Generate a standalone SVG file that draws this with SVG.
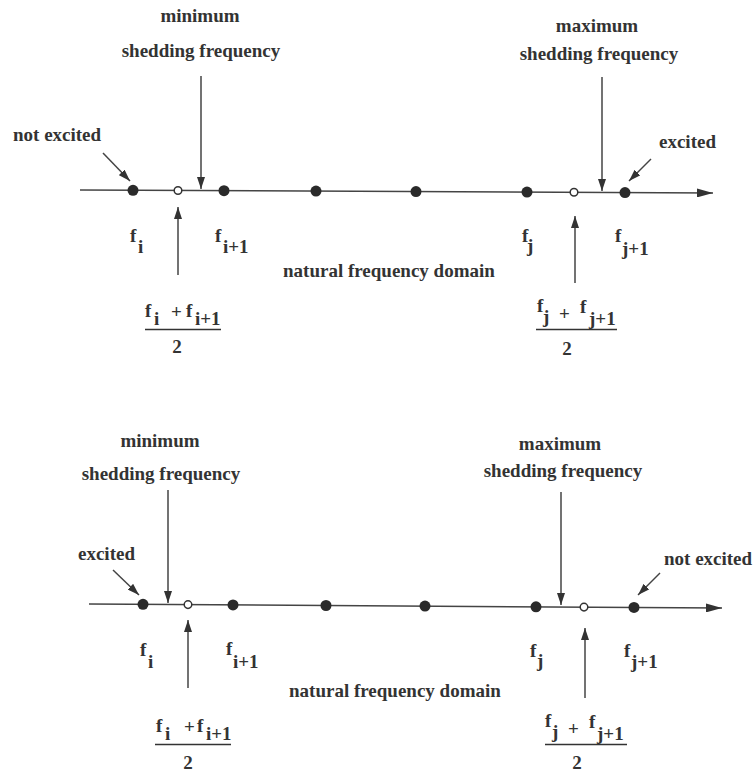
<svg xmlns="http://www.w3.org/2000/svg" width="755" height="772" viewBox="0 0 755 772">
<style>
text{font-family:"Liberation Serif","Times New Roman",serif;font-weight:bold;font-size:19px;fill:#333}
.m{text-anchor:middle}
.ln{stroke:#444;stroke-width:1.5;fill:none}
.dot{fill:#2a2a2a}
.od{fill:#fff;stroke:#333;stroke-width:1.5}
.bar{stroke:#333;stroke-width:1.6}
</style>
<defs>
<marker id="ah" viewBox="0 0 12 8" refX="12" refY="4" markerWidth="12" markerHeight="8" orient="auto" markerUnits="userSpaceOnUse"><path d="M0,0 L12,4 L0,8 z" fill="#333"/></marker>
<marker id="ax" viewBox="0 0 16 9" refX="16" refY="4.5" markerWidth="16" markerHeight="9" orient="auto" markerUnits="userSpaceOnUse"><path d="M0,0 L16,4.5 L0,9 z" fill="#333"/></marker>
</defs>
<rect width="755" height="772" fill="#fff"/>

<g id="connectors">
<line class="ln" x1="80" y1="190" x2="713" y2="193" marker-end="url(#ax)"/>
<line class="ln" x1="201" y1="76" x2="201" y2="189" marker-end="url(#ah)"/>
<line class="ln" x1="602" y1="77" x2="602" y2="191" marker-end="url(#ah)"/>
<line class="ln" x1="103" y1="153" x2="130" y2="181" marker-end="url(#ah)"/>
<line class="ln" x1="651" y1="159" x2="629" y2="181" marker-end="url(#ah)"/>
<line class="ln" x1="178" y1="275" x2="178" y2="207" marker-end="url(#ah)"/>
<line class="ln" x1="575" y1="283" x2="575" y2="216" marker-end="url(#ah)"/>

<line class="ln" x1="89" y1="604" x2="722" y2="608" marker-end="url(#ax)"/>
<line class="ln" x1="168" y1="490" x2="168" y2="603" marker-end="url(#ah)"/>
<line class="ln" x1="561" y1="492" x2="561" y2="605" marker-end="url(#ah)"/>
<line class="ln" x1="113" y1="570" x2="139" y2="595" marker-end="url(#ah)"/>
<line class="ln" x1="660" y1="573" x2="638" y2="595" marker-end="url(#ah)"/>
<line class="ln" x1="188" y1="688" x2="188" y2="620" marker-end="url(#ah)"/>
<line class="ln" x1="585" y1="698" x2="585" y2="628" marker-end="url(#ah)"/>
</g>

<g id="top-points">
<circle class="dot" cx="133" cy="190.3" r="5.5"/>
<circle class="od" cx="178" cy="190.5" r="3.8"/>
<circle class="dot" cx="224" cy="190.7" r="5.5"/>
<circle class="dot" cx="316" cy="191.1" r="5.5"/>
<circle class="dot" cx="416" cy="191.6" r="5.5"/>
<circle class="dot" cx="527" cy="192.1" r="5.5"/>
<circle class="od" cx="574" cy="192.3" r="3.8"/>
<circle class="dot" cx="625" cy="192.6" r="5.5"/>
</g>

<g id="top-min-label">
<text class="m" x="200" y="22">minimum</text>
<text class="m" x="201" y="57">shedding frequency</text>
</g>
<g id="top-max-label">
<text class="m" x="597" y="32">maximum</text>
<text class="m" x="599" y="60">shedding frequency</text>
</g>
<g id="top-not-excited"><text x="13" y="141">not excited</text></g>
<g id="top-excited"><text x="659" y="148">excited</text></g>
<g id="top-fi"><text x="130" y="242">f<tspan x="138" y="253">i</tspan></text></g>
<g id="top-fi1"><text x="215" y="242">f<tspan x="223" y="253">i+1</tspan></text></g>
<g id="top-fj"><text x="522" y="242">f<tspan x="527" y="252">j</tspan></text></g>
<g id="top-fj1"><text x="615" y="242">f<tspan x="622" y="255">j+1</tspan></text></g>
<g id="top-domain"><text x="283" y="277">natural frequency domain</text></g>
<g id="top-frac-i">
<text x="145" y="317">f<tspan x="154" y="325">i</tspan><tspan x="171" y="318">+</tspan><tspan x="186" y="317">f</tspan><tspan x="195" y="325">i+1</tspan></text>
<line class="bar" x1="145" y1="329.5" x2="221" y2="329.5"/>
<text class="m" x="177" y="353">2</text>
</g>
<g id="top-frac-j">
<text x="537" y="312">f<tspan x="543" y="323">j</tspan><tspan x="559" y="320">+</tspan><tspan x="580" y="313">f</tspan><tspan x="589" y="325">j+1</tspan></text>
<line class="bar" x1="536" y1="329.5" x2="617" y2="329.5"/>
<text class="m" x="567" y="355">2</text>
</g>

<g id="bottom-points">
<circle class="dot" cx="143" cy="604.3" r="5.5"/>
<circle class="od" cx="188" cy="604.6" r="3.8"/>
<circle class="dot" cx="233" cy="604.9" r="5.5"/>
<circle class="dot" cx="326" cy="605.5" r="5.5"/>
<circle class="dot" cx="425" cy="606.1" r="5.5"/>
<circle class="dot" cx="536" cy="606.8" r="5.5"/>
<circle class="od" cx="584" cy="607.1" r="3.8"/>
<circle class="dot" cx="634" cy="607.4" r="5.5"/>
</g>

<g id="bottom-min-label">
<text class="m" x="160" y="447">minimum</text>
<text class="m" x="161" y="480">shedding frequency</text>
</g>
<g id="bottom-max-label">
<text class="m" x="560" y="450">maximum</text>
<text class="m" x="563" y="477">shedding frequency</text>
</g>
<g id="bottom-excited"><text x="78" y="560">excited</text></g>
<g id="bottom-not-excited"><text x="664" y="565">not excited</text></g>
<g id="bottom-fi"><text x="140" y="656">f<tspan x="148" y="668">i</tspan></text></g>
<g id="bottom-fi1"><text x="226" y="655">f<tspan x="233" y="668">i+1</tspan></text></g>
<g id="bottom-fj"><text x="530" y="657">f<tspan x="537" y="667">j</tspan></text></g>
<g id="bottom-fj1"><text x="624" y="657">f<tspan x="631" y="668">j+1</tspan></text></g>
<g id="bottom-domain"><text x="289" y="697">natural frequency domain</text></g>
<g id="bottom-frac-i">
<text x="156" y="732">f<tspan x="165" y="740">i</tspan><tspan x="184" y="733">+</tspan><tspan x="197" y="732">f</tspan><tspan x="206" y="740">i+1</tspan></text>
<line class="bar" x1="155" y1="744.5" x2="231" y2="744.5"/>
<text class="m" x="188" y="769">2</text>
</g>
<g id="bottom-frac-j">
<text x="545" y="727">f<tspan x="552" y="738">j</tspan><tspan x="568" y="735">+</tspan><tspan x="589" y="728">f</tspan><tspan x="597" y="740">j+1</tspan></text>
<line class="bar" x1="545" y1="744.5" x2="627" y2="744.5"/>
<text class="m" x="577" y="769">2</text>
</g>
</svg>
